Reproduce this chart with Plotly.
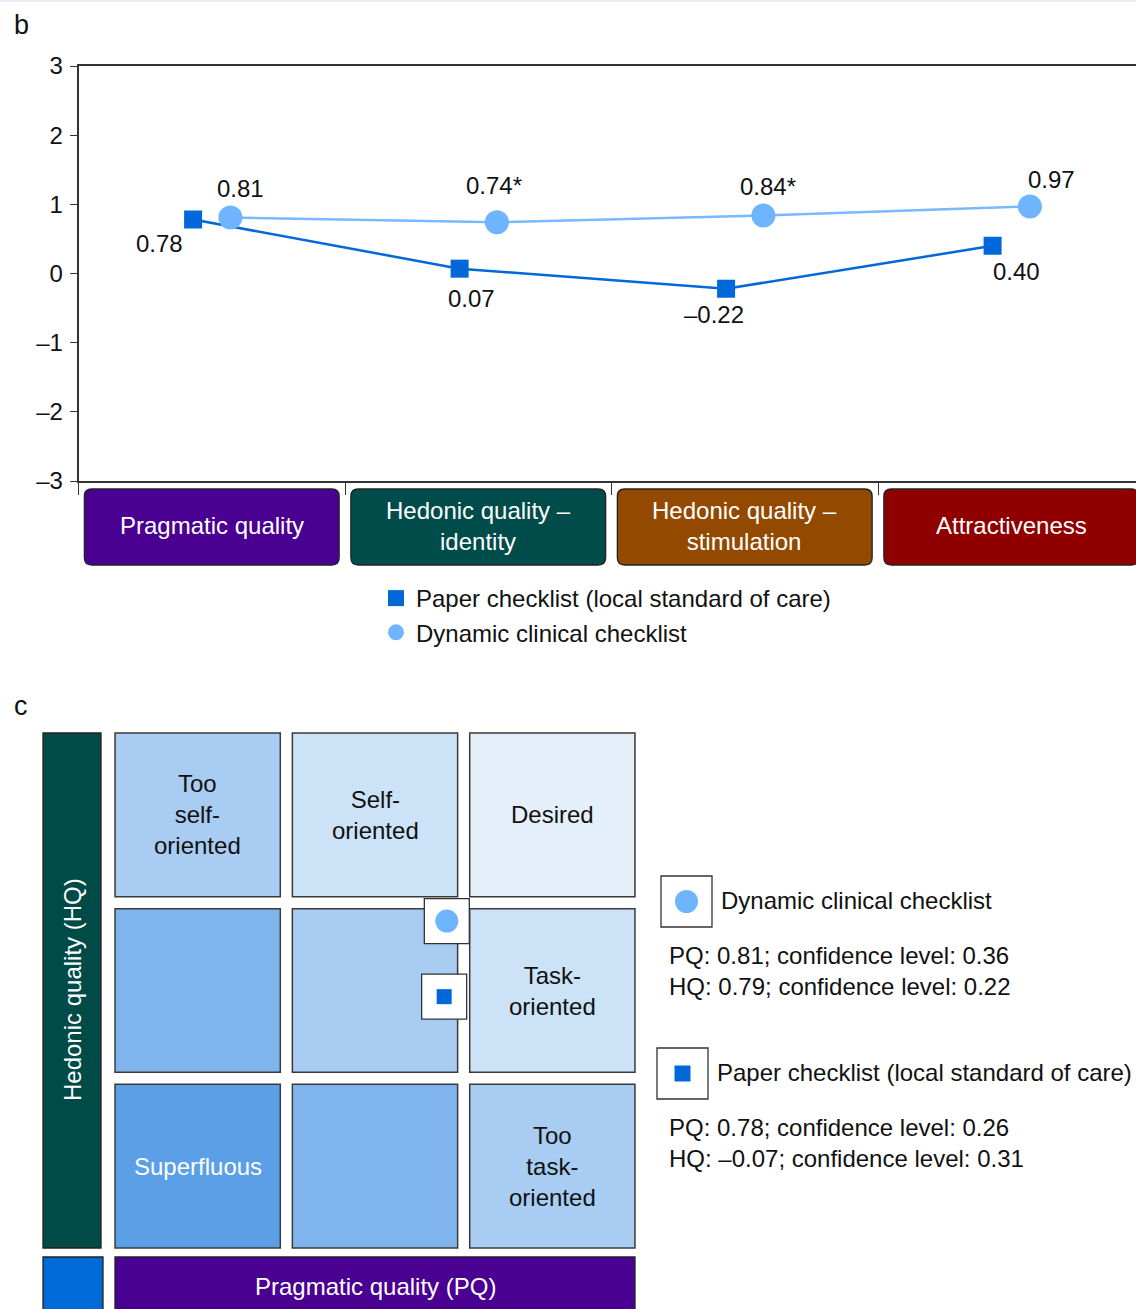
import plotly.graph_objects as go

# ---------------- data ----------------
categories = ["Pragmatic quality", "Hedonic quality –<br>identity",
              "Hedonic quality –<br>stimulation", "Attractiveness"]
series_names = ["Paper checklist (local standard of care)", "Dynamic clinical checklist"]
paper_values = [0.78, 0.07, -0.22, 0.40]
dynamic_values = [0.81, 0.74, 0.84, 0.97]
dynamic_significant = [False, True, True, False]
y_tick_values = [3, 2, 1, 0, -1, -2, -3]
y_tick_labels = ["3", "2", "1", "0", "–1", "–2", "–3"]

# portfolio grid (rows from top = high HQ to bottom = low HQ)
quadrant_labels = [
    ["Too<br>self-<br>oriented", "Self-<br>oriented", "Desired"],
    ["", "", "Task-<br>oriented"],
    ["Superfluous", "", "Too<br>task-<br>oriented"],
]
grid_series = ["Dynamic clinical checklist", "Paper checklist (local standard of care)"]
pq_scores = [0.81, 0.78]
hq_scores = [0.79, -0.07]
pq_confidence = [0.36, 0.26]
hq_confidence = [0.22, 0.31]

# ---------------- style ----------------
W, H = 1136, 1309
FONT = "Liberation Sans, Arial, sans-serif"
FS = 24
TXT = "#111111"
EDGE = "#333333"
PAPER_COLOR = "#0068d8"
DYN_COLOR = "#6eb4ff"
DYN_LINE = "#78b9ff"
cat_colors = ["#4a0090", "#004c4a", "#934a00", "#900000"]
shade_colors = ["#5b9fe6", "#80b4ec", "#a8ccf2", "#cce2f7", "#e4eff9"]
OFF = 0.07


def px(x):
    return x / W


def py(y):
    return 1 - y / H


def fmt(v):
    return f"{v:.2f}".replace("-", "–")


def rounded_path(x0, x1, y0, y1, rx, ry):
    return (f"M {x0+rx},{y1} L {x1-rx},{y1} Q {x1},{y1} {x1},{y1-ry} "
            f"L {x1},{y0+ry} Q {x1},{y0} {x1-rx},{y0} L {x0+rx},{y0} "
            f"Q {x0},{y0} {x0},{y0+ry} L {x0},{y1-ry} Q {x0},{y1} {x0+rx},{y1} Z")


def note(x, y, text, xanchor="center", yanchor="middle", color=TXT, size=FS, **kw):
    return dict(x=px(x), y=py(y), xref="paper", yref="paper", text=text, showarrow=False,
                xanchor=xanchor, yanchor=yanchor,
                font=dict(size=size, color=color, family=FONT), **kw)


fig = go.Figure()

idx = list(range(len(categories)))
x_paper = [i - OFF for i in idx]
x_dyn = [i + OFF for i in idx]

fig.add_trace(go.Scatter(x=x_paper, y=paper_values, mode="lines+markers",
                         line=dict(color=PAPER_COLOR, width=2.5),
                         marker=dict(symbol="square", size=18, color=PAPER_COLOR),
                         showlegend=False, hoverinfo="skip"))
fig.add_trace(go.Scatter(x=x_dyn, y=dynamic_values, mode="lines+markers",
                         line=dict(color=DYN_LINE, width=2.5),
                         marker=dict(symbol="circle", size=24, color=DYN_COLOR),
                         showlegend=False, hoverinfo="skip"))
# legend entries (marker only)
fig.add_trace(go.Scatter(x=[None], y=[None], mode="markers", name=series_names[0],
                         marker=dict(symbol="square", size=16, color=PAPER_COLOR)))
fig.add_trace(go.Scatter(x=[None], y=[None], mode="markers", name=series_names[1],
                         marker=dict(symbol="circle", size=16, color=DYN_COLOR)))

annotations = []
shapes = []

# data labels
paper_shift = [(-34, -24), (12, -30), (-12, -26), (24, -26)]
dyn_shift = [(10, 29), (-3, 37), (5, 29), (22, 27)]
for i in idx:
    annotations.append(dict(x=x_paper[i], y=paper_values[i], xref="x", yref="y",
                            text=fmt(paper_values[i]), showarrow=False,
                            xanchor="center", yanchor="middle",
                            xshift=paper_shift[i][0], yshift=paper_shift[i][1],
                            font=dict(size=FS, color=TXT, family=FONT)))
    annotations.append(dict(x=x_dyn[i], y=dynamic_values[i], xref="x", yref="y",
                            text=fmt(dynamic_values[i]) + ("*" if dynamic_significant[i] else ""),
                            showarrow=False, xanchor="center", yanchor="middle",
                            xshift=dyn_shift[i][0], yshift=dyn_shift[i][1],
                            font=dict(size=FS, color=TXT, family=FONT)))

# category boxes under the axis
HW = 0.478
for i, (lab, col) in enumerate(zip(categories, cat_colors)):
    shapes.append(dict(type="path", xref="x", yref="paper",
                       path=rounded_path(i - HW, i + HW, py(565), py(489), 0.028, 0.0055),
                       fillcolor=col, line=dict(color="#222222", width=1.3)))
    annotations.append(dict(x=i, y=py(526), xref="x", yref="paper", text=lab,
                            showarrow=False, xanchor="center", yanchor="middle",
                            font=dict(size=FS, color="white", family=FONT)))

# panel letters
annotations.append(note(12, 25, "b", xanchor="left", size=27))
annotations.append(note(12, 706, "c", xanchor="left", size=27))

# faint top rule
shapes.append(dict(type="line", xref="paper", yref="paper", x0=0, x1=1, y0=py(1), y1=py(1),
                   line=dict(color="#dfe6ee", width=1.5)))

# ---------------- panel c grid ----------------
G = 0.068
nrows = len(quadrant_labels)
for r in range(nrows):
    hq_level = nrows - 1 - r
    for c in range(3):
        x0 = -3 + 2 * c + G
        x1 = -1 + 2 * c - G
        y0 = -3 + 2 * hq_level + G
        y1 = -1 + 2 * hq_level - G
        shapes.append(dict(type="rect", xref="x2", yref="y2", x0=x0, x1=x1, y0=y0, y1=y1,
                           fillcolor=shade_colors[c + hq_level], layer="below",
                           line=dict(color="#3a3a3a", width=1.5)))
        if quadrant_labels[r][c]:
            annotations.append(dict(x=(x0 + x1) / 2, y=(y0 + y1) / 2, xref="x2", yref="y2",
                                    text=quadrant_labels[r][c], showarrow=False,
                                    xanchor="center", yanchor="middle",
                                    font=dict(size=FS, family=FONT,
                                              color="white" if c + hq_level == 0 else TXT)))

# boxes around markers
fig.add_trace(go.Scatter(x=pq_scores, y=hq_scores, xaxis="x2", yaxis="y2", mode="markers",
                         marker=dict(symbol="square", size=45, color="white",
                                     line=dict(color=EDGE, width=1.3)),
                         showlegend=False, hoverinfo="skip"))
fig.add_trace(go.Scatter(x=[pq_scores[0]], y=[hq_scores[0]], xaxis="x2", yaxis="y2",
                         mode="markers", marker=dict(symbol="circle", size=23, color=DYN_COLOR),
                         showlegend=False, hoverinfo="skip"))
fig.add_trace(go.Scatter(x=[pq_scores[1]], y=[hq_scores[1]], xaxis="x2", yaxis="y2",
                         mode="markers", marker=dict(symbol="square", size=15, color=PAPER_COLOR),
                         showlegend=False, hoverinfo="skip"))

# HQ bar, PQ bar, corner square
shapes.append(dict(type="rect", xref="paper", yref="paper", x0=px(43), x1=px(101),
                   y0=py(1248), y1=py(733), fillcolor="#004a47", line=dict(color="#222", width=1.3)))
annotations.append(note(72, 990, "Hedonic quality (HQ)", color="white", textangle=-90))
shapes.append(dict(type="rect", xref="paper", yref="paper", x0=px(115), x1=px(635),
                   y0=py(1315), y1=py(1257), fillcolor="#4a0090", line=dict(color="#222", width=1.3)))
annotations.append(note(375, 1286, "Pragmatic quality (PQ)", color="white"))
shapes.append(dict(type="rect", xref="paper", yref="paper", x0=px(43), x1=px(103),
                   y0=py(1315), y1=py(1257), fillcolor="#006ad8", line=dict(color="#222", width=1.3)))

# right-hand key
key_boxes = [(661, 876), (657, 1048)]
for k, (bx, by) in enumerate(key_boxes):
    shapes.append(dict(type="rect", xref="paper", yref="paper", x0=px(bx), x1=px(bx + 51),
                       y0=py(by + 51), y1=py(by), fillcolor="white",
                       line=dict(color=EDGE, width=1.3)))
    cx, cy = bx + 25.5, by + 25.5
    if k == 0:
        shapes.append(dict(type="circle", xref="paper", yref="paper",
                           x0=px(cx - 11.5), x1=px(cx + 11.5), y0=py(cy + 11.5), y1=py(cy - 11.5),
                           fillcolor=DYN_COLOR, line=dict(width=0)))
    else:
        shapes.append(dict(type="rect", xref="paper", yref="paper",
                           x0=px(cx - 8), x1=px(cx + 8), y0=py(cy + 8), y1=py(cy - 8),
                           fillcolor=PAPER_COLOR, line=dict(width=0)))
    annotations.append(note(bx + 58, cy - 1, grid_series[k], xanchor="left"))
    annotations.append(note(667, by + 95,
                            (f"PQ: {fmt(pq_scores[k])}; confidence level: {fmt(pq_confidence[k])}<br>"
                             f"HQ: {fmt(hq_scores[k])}; confidence level: {fmt(hq_confidence[k])}"),
                            xanchor="left", align="left"))

fig.update_layout(
    width=W, height=H, margin=dict(l=0, r=0, t=0, b=0, pad=0, autoexpand=False),
    paper_bgcolor="white", plot_bgcolor="white",
    font=dict(family=FONT, size=FS, color=TXT),
    showlegend=True,
    legend=dict(x=px(376), y=py(576), xanchor="left", yanchor="top",
                font=dict(size=FS, color=TXT, family=FONT), bgcolor="rgba(0,0,0,0)"),
    xaxis=dict(domain=[px(78.5), 1], range=[-0.5, -0.5 + (W - 78.5) / 266.5],
               showgrid=False, zeroline=False, showline=True, mirror=True, automargin=False,
               linecolor=EDGE, linewidth=1.5, tickvals=[-0.5, 0.5, 1.5, 2.5],
               ticks="outside", ticklen=12, tickcolor=EDGE, tickwidth=1.2,
               showticklabels=False, fixedrange=True),
    yaxis=dict(domain=[py(481), py(66)], range=[-3, 3], showgrid=False, zeroline=False,
               showline=True, linecolor=EDGE, linewidth=1.5, automargin=False,
               tickvals=y_tick_values, ticktext=y_tick_labels, ticks="outside",
               ticklen=7, tickcolor=EDGE, tickwidth=1.2, ticklabelstandoff=2,
               tickfont=dict(size=FS, color=TXT, family=FONT), fixedrange=True),
    xaxis2=dict(domain=[px(109), px(641)], range=[-3, 3], anchor="y2", visible=False,
                automargin=False),
    yaxis2=dict(domain=[py(1254), py(727)], range=[-3, 3], anchor="x2", visible=False,
                automargin=False),
    shapes=shapes, annotations=annotations,
)

fig.write_html("out.html")
